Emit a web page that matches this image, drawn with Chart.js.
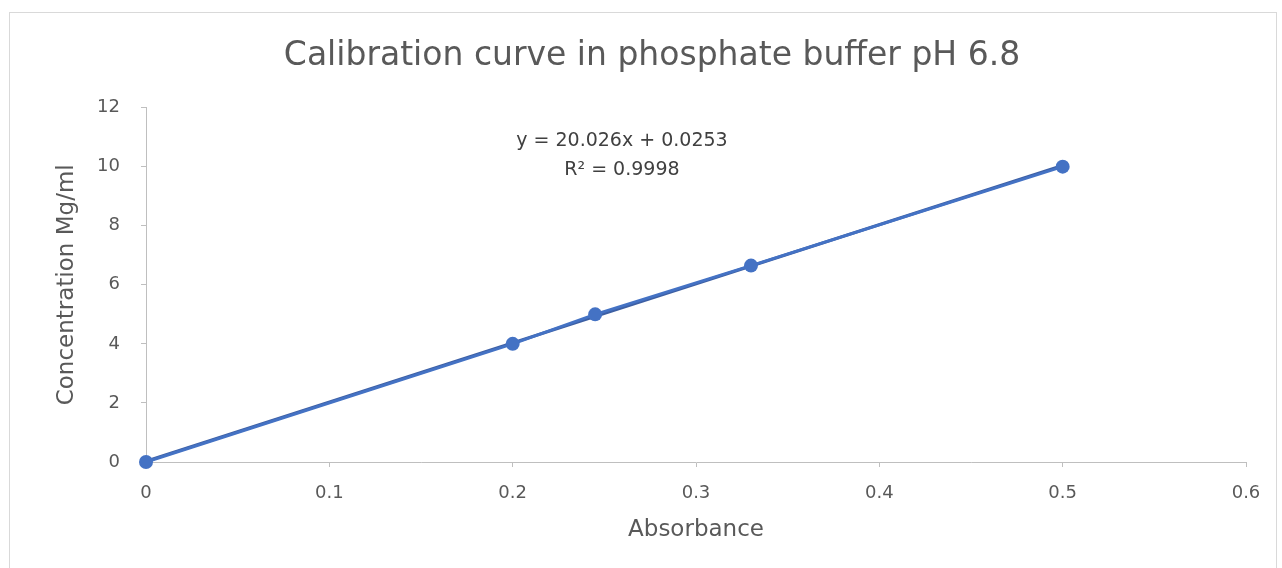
<!DOCTYPE html>
<html>
<head>
<meta charset="utf-8">
<script src="https://cdn.jsdelivr.net/npm/chart.js@4.4.1/dist/chart.umd.min.js"></script>
<style>
  html, body { margin: 0; padding: 0; background: #fff; }
  #wrap { position: relative; width: 1282px; height: 568px; }
  #frame { position: absolute; left: 9px; top: 12px; width: 1266px; height: 560px; border: 1px solid #d9d9d9; }
  canvas { position: absolute; left: 0; top: 0; }
</style>
</head>
<body>
<div id="wrap">
  <div id="frame"></div>
  <canvas id="myChart" width="1282" height="568"></canvas>
</div>
<script>
// measured points
const absorbance = [0, 0.2, 0.245, 0.33, 0.5];
const concentration = [0, 4, 5, 6.65, 10];

// linear trendline ends as shown on the chart
const trendX = [0, 0.5];
const trendY = [0.0253, 10.0383];

const xTicks = [0, 0.1, 0.2, 0.3, 0.4, 0.5, 0.6];
const yTicks = [0, 2, 4, 6, 8, 10, 12];

const equationLines = ["y = 20.026x + 0.0253", "R\u00b2 = 0.9998"];

const FONT = "'DejaVu Sans', sans-serif";
const GREY = "#595959";

const equationLabel = {
  id: "equationLabel",
  afterDatasetsDraw(chart) {
    const c = chart.ctx;
    const x = chart.scales.x.getPixelForValue(0.2596);
    c.save();
    c.font = "19px " + FONT;
    c.fillStyle = "#404040";
    c.textAlign = "center";
    c.textBaseline = "middle";
    c.fillText(equationLines[0], x, chart.scales.y.getPixelForValue(10.88));
    c.fillText(equationLines[1], x, chart.scales.y.getPixelForValue(9.9));
    c.restore();
  }
};

const ctx = document.getElementById("myChart").getContext("2d");

const chart = new Chart(ctx, {
  type: "scatter",
  data: {
    datasets: [
      {
        label: "Trendline",
        data: trendX.map((x, i) => ({ x: x, y: trendY[i] })),
        showLine: true,
        borderColor: "#3d5fa3",
        borderWidth: 3,
        pointRadius: 0,
        clip: false,
        order: 2
      },
      {
        label: "Concentration",
        data: absorbance.map((x, i) => ({ x: x, y: concentration[i] })),
        showLine: true,
        borderColor: "#4472c4",
        backgroundColor: "#4472c4",
        borderWidth: 3,
        pointRadius: 7,
        pointBorderWidth: 0,
        clip: false,
        order: 1
      }
    ]
  },
  options: {
    responsive: false,
    animation: false,
    layout: { padding: { left: 22, right: 0, top: 12, bottom: 10 } },
    plugins: {
      legend: { display: false },
      tooltip: { enabled: false },
      title: {
        display: true,
        text: "Calibration curve in phosphate buffer pH 6.8",
        color: GREY,
        font: { family: FONT, size: 33, weight: "normal" },
        padding: { top: 25, bottom: 31 }
      }
    },
    scales: {
      x: {
        type: "linear",
        min: 0,
        max: 0.6,
        afterBuildTicks: (s) => { s.ticks = xTicks.map(v => ({ value: v })); },
        afterFit: (s) => { s.height = 96; },
        ticks: {
          color: GREY,
          font: { family: FONT, size: 18 },
          padding: 16,
          callback: (v) => String(v)
        },
        grid: { drawOnChartArea: false, drawTicks: true, tickLength: 5, color: "#bfbfbf" },
        border: { color: "#bfbfbf", width: 1 },
        title: {
          display: true,
          text: "Absorbance",
          color: GREY,
          font: { family: FONT, size: 23 },
          padding: { top: 0, bottom: 14 }
        }
      },
      y: {
        type: "linear",
        min: 0,
        max: 12,
        afterBuildTicks: (s) => { s.ticks = yTicks.map(v => ({ value: v })); },
        afterFit: (s) => { s.width = 124; },
        ticks: {
          color: GREY,
          font: { family: FONT, size: 18 },
          padding: 21
        },
        grid: { drawOnChartArea: false, drawTicks: true, tickLength: 5, color: "#bfbfbf" },
        border: { color: "#bfbfbf", width: 1 },
        title: {
          display: true,
          text: "Concentration Mg/ml",
          color: GREY,
          font: { family: FONT, size: 23 },
          padding: { top: 31, bottom: 0 }
        }
      },
      // empty right-hand box, keeps the plot right edge where the reference has it
      yRight: {
        type: "linear",
        position: "right",
        min: 0,
        max: 12,
        afterFit: (s) => { s.width = 36; },
        ticks: { display: false },
        grid: { display: false },
        border: { display: false }
      }
    }
  },
  plugins: [equationLabel]
});
</script>
</body>
</html>
